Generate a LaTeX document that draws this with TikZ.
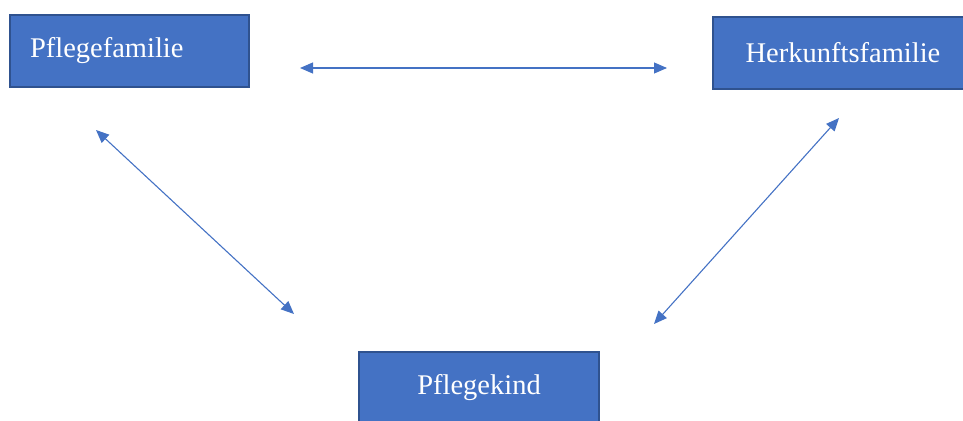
\documentclass[tikz,border=0pt]{standalone}
\usepackage{fontspec}
\setmainfont{Liberation Serif}
\usetikzlibrary{arrows.meta}
\definecolor{boxfill}{HTML}{4472C4}
\definecolor{boxline}{HTML}{2F528F}
\begin{document}
\begin{tikzpicture}[x=1pt,y=-1pt,
  famBox/.style={draw=boxline, line width=2pt, fill=boxfill, text=white,
    font=\fontsize{28.5}{32}\selectfont, minimum height=72pt, inner sep=0pt, anchor=north west},
  link/.style={draw=boxfill, line width=1.1pt, {Triangle[length=13pt,width=11pt]}-{Triangle[length=13pt,width=11pt]}}]
\useasboundingbox (0,0) rectangle (963,420);
\node[famBox, minimum width=239pt, text width=199pt, align=left] (pf) at (9,14) {Pflegefamilie};
\node[famBox, minimum width=260pt] (hf) at (712,16) {Herkunftsfamilie};
\node[famBox, minimum width=240pt] (pk) at (358,351) {Pflegekind};
\coordinate (a1) at (300,68);
\coordinate (a2) at (667,68);
\coordinate (b1) at (96,130);
\coordinate (b2) at (294,314);
\coordinate (c1) at (839,118);
\coordinate (c2) at (654,324);
\draw[link] (a1) -- (a2);
\draw[link] (b1) -- (b2);
\draw[link] (c1) -- (c2);
\end{tikzpicture}
\end{document}
